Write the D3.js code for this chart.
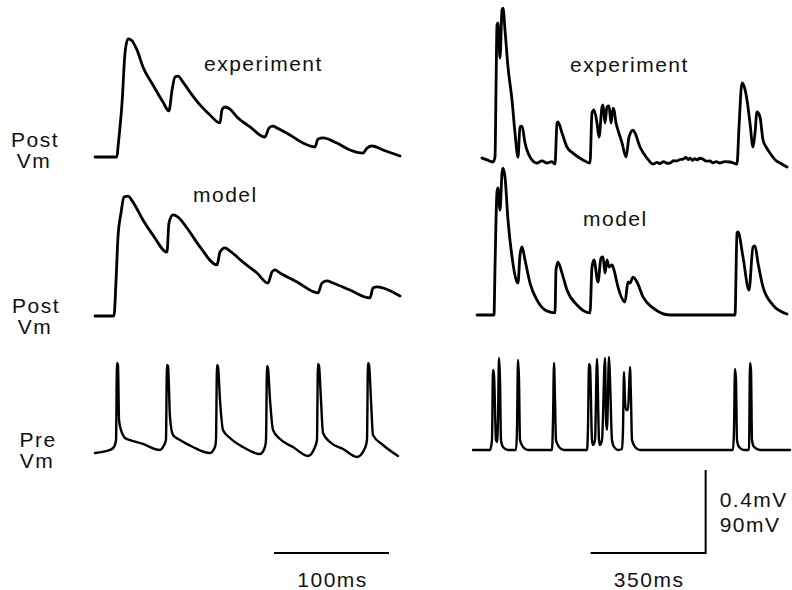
<!DOCTYPE html>
<html>
<head>
<meta charset="utf-8">
<script src="https://cdn.jsdelivr.net/npm/d3@7/dist/d3.min.js"></script>
<style>
  html, body { margin: 0; padding: 0; background: #fff; }
  svg { display: block; }
  text { font-family: "Liberation Sans", Arial, Helvetica, sans-serif; font-size: 21px; letter-spacing: 1.5px; fill: #111; }
</style>
</head>
<body>
<script>
// Paired-neuron recordings: presynaptic spikes and postsynaptic responses.
// Each trace is a list of [time (ms), membrane potential] samples.
// Post traces are in mV above rest; pre traces are absolute mV.

// --- Left column: regular presynaptic firing (time in ms) ---
const leftExperiment = [
  [0,0],[19.1,0],[20.0,0.048],[23.5,0.260],[26.1,0.501],[28.7,0.569],[31.3,0.564],
  [36.5,0.516],[41.7,0.434],[50.4,0.347],[59.1,0.265],[64.3,0.222],[67.0,0.323],
  [69.6,0.386],[72.2,0.390],[76.5,0.361],[82.6,0.313],[91.3,0.251],[100.0,0.202],
  [108.7,0.164],[110.4,0.227],[113.0,0.241],[117.4,0.231],[123.5,0.193],[134.8,0.145],
  [147.8,0.096],[151.3,0.140],[154.8,0.149],[158.3,0.140],[169.6,0.106],[180.9,0.067],
  [191.3,0.048],[193.9,0.087],[198.3,0.092],[210.4,0.067],[221.7,0.034],[233.0,0.019],
  [236.5,0.043],[240.9,0.053],[250.4,0.034],[265.2,0.005]
];
const leftModel = [
  [0,0],[16.5,0],[18.3,0.173],[20.0,0.381],[22.6,0.496],[25.2,0.573],[28.7,0.578],
  [33.0,0.549],[41.7,0.463],[50.4,0.390],[62.6,0.308],[64.3,0.448],[67.8,0.487],
  [72.2,0.477],[80.0,0.424],[91.3,0.333],[106.1,0.246],[108.7,0.308],[113.0,0.328],
  [117.4,0.313],[128.7,0.260],[140.9,0.207],[150.4,0.159],[153.9,0.212],[156.5,0.222],
  [160.9,0.207],[175.7,0.164],[193.9,0.111],[197.4,0.159],[201.7,0.169],[207.0,0.159],
  [221.7,0.125],[239.1,0.087],[241.7,0.135],[245.2,0.140],[250.4,0.135],[265.2,0.096]
];
const leftPre = [
  [0,-66.1],[13.0,-62.8],[16.5,-59.6],[18.3,-52.0],[19.1,31.5],[20.0,29.3],[20.9,-30.3],
  [22.6,-41.1],[24.3,-46.6],[26.1,-49.8],[30.4,-52.0],[41.7,-56.3],[56.5,-62.8],
  [59.1,-59.6],[61.7,-52.0],[62.6,29.3],[63.5,28.2],[65.2,-27.0],[67.8,-46.6],
  [73.9,-52.0],[85.2,-59.6],[100.0,-66.1],[104.3,-59.6],[105.2,-52.0],[106.1,29.3],
  [107.0,27.2],[108.7,-8.6],[111.3,-41.1],[117.4,-49.8],[128.7,-59.6],[143.5,-67.2],
  [147.8,-59.6],[148.7,-52.0],[149.6,28.2],[150.4,26.1],[152.2,-8.6],[154.8,-41.1],
  [160.9,-50.9],[172.2,-59.6],[185.2,-69.3],[191.3,-59.6],[193.0,-52.0],[193.9,30.4],
  [194.8,28.2],[196.5,-8.6],[198.3,-44.4],[204.3,-54.2],[215.7,-61.7],[227.8,-70.4],
  [234.8,-60.7],[236.5,-52.0],[237.4,31.5],[238.3,29.3],[240.0,-8.6],[241.7,-46.6],
  [250.4,-57.4],[263.5,-69.3]
];

// --- Right column: irregular presynaptic firing (time in ms) ---
const rightExperiment = [
  [27.4,0.019],[42.6,0.010],[60.9,0],[67.0,0.024],[70.0,0.347],[73.0,0.660],[76.1,0.670],
  [82.2,0.501],[88.3,0.733],[91.3,0.742],[97.4,0.636],[106.5,0.458],[118.7,0.299],
  [127.8,0.140],[137.0,0.024],[143.0,0.169],[149.1,0.173],[158.3,0.092],[173.5,0.024],
  [194.8,-0.005],[210.0,0.005],[225.2,-0.005],[240.0,0.002],[249.6,-0.010],[255.7,0.188],
  [258.7,0.193],[270.9,0.140],[286.1,0.072],[304.3,0.043],[334.8,0.010],[356.1,-0.005],
  [362.2,0.236],[368.3,0.251],[377.4,0.188],[383.5,0.120],[392.6,0.265],[395.7,0.275],
  [401.7,0.188],[407.8,0.265],[413.9,0.270],[420.0,0.188],[426.1,0.260],[429.1,0.251],
  [435.2,0.188],[441.3,0.154],[453.5,0.092],[465.7,0.024],[474.8,0.120],[487.0,0.154],
  [493.0,0.140],[508.3,0.072],[529.6,0.019],[547.8,-0.010],[560.0,-0.002],[569.1,-0.008],
  [580.0,0.002],[590.0,-0.006],[599.6,-0.005],[610.0,0.006],[620.9,0.005],[630.0,0.012],
  [639.1,0.014],[648.0,0.022],[655.0,0.012],[660.4,0.019],[668.0,0.008],[675.0,0.016],
  [681.7,0.010],[690.0,0.018],[700.0,0.014],[710.0,0.004],[721.3,0.005],[730.0,-0.004],
  [740.0,0.002],[751.7,-0.005],[765.0,0.002],[782.2,0],[795.0,-0.006],[803.5,-0.010],
  [809.6,0.169],[818.7,0.381],[824.8,0.366],[833.9,0.299],[843.0,0.188],[852.2,0.072],
  [858.3,0.140],[864.3,0.241],[873.5,0.217],[882.6,0.106],[893.0,0.070],[903.9,0.043],
  [920.0,0.010],[934.3,-0.005],[955.7,-0.024]
];
const rightModel = [
  [12.2,0],[63.9,0],[67.0,0.231],[73.0,0.593],[76.1,0.612],[82.2,0.506],[88.3,0.684],
  [91.3,0.708],[97.4,0.665],[106.5,0.458],[118.7,0.280],[133.9,0.159],[137.0,0.154],
  [143.0,0.289],[149.1,0.328],[158.3,0.265],[173.5,0.154],[194.8,0.072],[225.2,0.019],
  [249.6,0.010],[252.6,0.217],[258.7,0.255],[270.9,0.202],[286.1,0.120],[316.5,0.048],
  [356.1,0.010],[362.2,0.231],[368.3,0.265],[380.4,0.159],[389.6,0.275],[395.7,0.280],
  [401.7,0.202],[407.8,0.265],[413.9,0.231],[423.0,0.241],[429.1,0.217],[441.3,0.135],
  [462.6,0.063],[471.7,0.159],[477.8,0.154],[487.0,0.183],[499.1,0.159],[517.4,0.087],
  [547.8,0.034],[599.6,0],[797.4,0],[803.5,0.395],[806.5,0.400],[821.7,0.280],
  [840.0,0.120],[852.2,0.328],[858.3,0.333],[867.4,0.251],[882.6,0.135],[913.0,0.048],
  [955.7,0.005]
];
const rightPre = [
  [0,-65],[51.7,-65],[57.8,-54.2],[60.9,21.7],[63.9,16.3],[70.0,-54.2],[73.0,-56.3],
  [76.1,-32.5],[79.1,34.8],[82.2,10.9],[85.2,-54.2],[91.3,-61.7],[106.5,-65],
  [130.9,-65],[133.9,-43.3],[137.0,32.6],[140.0,10.9],[143.0,-54.2],[152.2,-61.7],
  [167.4,-65],[240.4,-65],[243.5,-32.5],[246.5,29.3],[249.6,-10.8],[252.6,-54.2],
  [261.7,-61.7],[277.0,-65],[347.0,-65],[350.0,-40.0],[353.0,28.3],[356.1,26.1],
  [362.2,-54.2],[365.2,-59.6],[371.3,-54.2],[377.4,33.7],[383.5,-54.2],[386.5,-59.6],
  [392.6,-54.2],[401.7,34.8],[404.8,-32.5],[407.8,-43.3],[413.9,35.8],[417.0,10.9],
  [423.0,-54.2],[429.1,-61.7],[441.3,-65],[453.5,-63.9],[456.5,-43.3],[459.6,19.6],
  [462.6,-10.8],[465.7,-21.6],[471.7,-21.6],[474.8,0.1],[477.8,25.0],[480.9,-10.8],
  [483.9,-54.2],[493.0,-61.7],[508.3,-65],[791.3,-65],[794.3,-43.3],[797.4,22.8],
  [800.4,10.9],[803.5,-54.2],[809.6,-61.7],[824.8,-65],[840.0,-65],[843.0,29.3],
  [846.1,21.7],[849.1,-54.2],[855.2,-61.7],[873.5,-65],[964.8,-65]
];

// Text
const panelTitles = ["experiment", "model"];
const rowLabels = [["Post", "Vm"], ["Post", "Vm"], ["Pre", "Vm"]];
const timeBars = [100, 350];          // ms
const timeBarLabels = ["100ms", "350ms"];
const voltBar = { post: 0.4, pre: 90 }; // mV
const voltBarLabels = ["0.4mV", "90mV"];

const W = 792, H = 590;
const svg = d3.select("body").append("svg").attr("width", W).attr("height", H);

// Time scales (one per column)
const xLeft = d3.scaleLinear().domain([0, 100]).range([95, 210]);
const xRight = d3.scaleLinear().domain([0, 350]).range([473, 588]);

// Vertical scales: 0.4 mV (post) and 90 mV (pre) share one bar height
const barPx = 83;
const postY = base => d3.scaleLinear().domain([0, voltBar.post]).range([base, base - barPx]);
const preY = base => d3.scaleLinear().domain([-65, -65 + voltBar.pre]).range([base, base - barPx]);

const traces = [
  { data: leftExperiment, x: xLeft, y: postY(157), w: 2.8 },
  { data: leftModel, x: xLeft, y: postY(316), w: 2.8 },
  { data: leftPre, x: xLeft, y: preY(452), w: 2.4 },
  { data: rightExperiment, x: xRight, y: postY(162), w: 2.8 },
  { data: rightModel, x: xRight, y: postY(315), w: 2.8 },
  { data: rightPre, x: xRight, y: preY(450), w: 2.4 }
];

traces.forEach(tr => {
  const line = d3.line()
    .x(d => tr.x(d[0]))
    .y(d => tr.y(d[1]))
    .curve(d3.curveMonotoneX);
  svg.append("path")
    .datum(tr.data)
    .attr("d", line)
    .attr("fill", "none")
    .attr("stroke", "#000")
    .attr("stroke-width", tr.w)
    .attr("stroke-linejoin", "round")
    .attr("stroke-linecap", "round");
});

// Panel titles
const titles = [
  { t: panelTitles[0], x: 204, y: 71 },
  { t: panelTitles[0], x: 570, y: 72 },
  { t: panelTitles[1], x: 193, y: 202 },
  { t: panelTitles[1], x: 583, y: 226 }
];
svg.selectAll("text.title").data(titles).join("text")
  .attr("class", "title")
  .attr("x", d => d.x).attr("y", d => d.y)
  .text(d => d.t);

// Row labels
const rowPos = [
  { x: 35, y: 147 },
  { x: 36, y: 313 },
  { x: 38, y: 447 }
];
rowLabels.forEach((lab, i) => {
  const g = svg.append("text")
    .attr("text-anchor", "middle");
  g.append("tspan").attr("x", rowPos[i].x).attr("y", rowPos[i].y).text(lab[0]);
  g.append("tspan").attr("x", rowPos[i].x - 1).attr("y", rowPos[i].y + 21).text(lab[1]);
});

// Scale bars
const barY = 553;
const leftT0 = 155.7, rightT0 = 358;
const bars = [
  { x1: xLeft(leftT0), x2: xLeft(leftT0 + timeBars[0]) },
  { x1: xRight(rightT0), x2: xRight(rightT0 + timeBars[1]) }
];
svg.selectAll("line.tbar").data(bars).join("line")
  .attr("class", "tbar")
  .attr("x1", d => d.x1).attr("x2", d => d.x2)
  .attr("y1", barY).attr("y2", barY)
  .attr("stroke", "#000").attr("stroke-width", 2);

const vY = postY(barY);
const vx = bars[1].x2;
svg.append("line")
  .attr("x1", vx).attr("x2", vx)
  .attr("y1", vY(0) + 1).attr("y2", vY(voltBar.post))
  .attr("stroke", "#000").attr("stroke-width", 2);

svg.selectAll("text.tlab").data(bars).join("text")
  .attr("class", "tlab")
  .attr("text-anchor", "middle")
  .attr("x", d => (d.x1 + d.x2) / 2 + 1)
  .attr("y", 587)
  .text((d, i) => timeBarLabels[i]);

svg.selectAll("text.vlab").data(voltBarLabels).join("text")
  .attr("class", "vlab")
  .attr("x", vx + 14)
  .attr("y", (d, i) => 507 + i * 25)
  .text(d => d);
</script>
</body>
</html>
